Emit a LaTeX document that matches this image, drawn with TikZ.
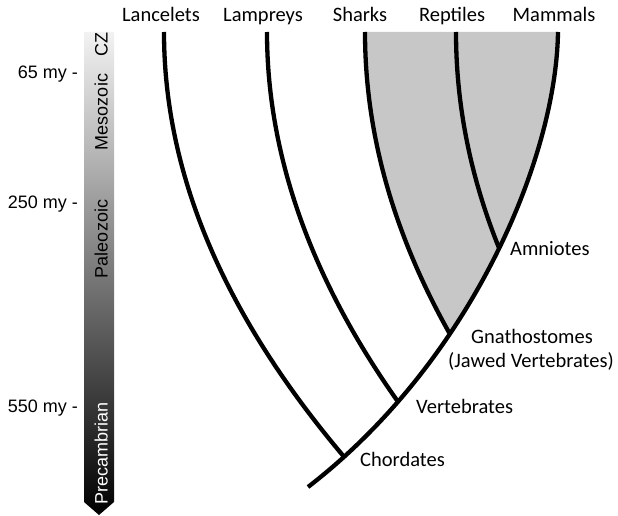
\documentclass[tikz,border=0pt]{standalone}
\usepackage{fontspec}
\setmainfont{Carlito}
\newfontfamily\arialf{Liberation Sans}
\begin{document}
\begin{tikzpicture}[x=1pt,y=-1pt,
  branch/.style={line width=4.3pt, black},
  cladefill/.style={fill=black!22},
  taxon/.style={font=\fontsize{20.5}{24}\selectfont, inner sep=0pt, anchor=base},
  clade/.style={font=\fontsize{20.5}{24}\selectfont, inner sep=0pt, anchor=base west},
  cladec/.style={font=\fontsize{20.5}{24}\selectfont, inner sep=0pt, anchor=base},
  age/.style={font=\arialf\fontsize{18}{22}\selectfont, inner sep=0pt, anchor=base east},
  era/.style={font=\arialf\fontsize{18}{22}\selectfont, inner sep=0pt, rotate=90, anchor=base}]
\useasboundingbox (0,0) rectangle (618,516);

% time bar
\shade[top color=black!5, middle color=black!45, bottom color=black]
  (84,32) -- (114,32) -- (114,502) -- (99,515) -- (84,502) -- cycle;
\node[era] (cz) at (107.5,45) {CZ};
\node[era] (meso) at (107.5,112) {Mesozoic};
\node[era] (paleo) at (107.5,239) {Paleozoic};
\node[era, text=white] (prec) at (107.5,453) {Precambrian};

\node[age] (a65) at (78,79) {65 my -};
\node[age] (a250) at (78,208) {250 my -};
\node[age] (a550) at (78,412) {550 my -};

% taxa
\node[taxon] (lanT) at (161,22) {Lancelets};
\node[taxon] (lamT) at (263,22) {Lampreys};
\node[taxon] (shaT) at (360,22) {Sharks};
\node[taxon] (repT) at (452,22) {Reptiles};
\node[taxon] (mamT) at (554,22) {Mammals};

% tree points
\coordinate (root) at (308,487);
\coordinate (tLan) at (164,32);
\coordinate (tLam) at (267,32);
\coordinate (tSha) at (365,32);
\coordinate (tRep) at (456,32);
\coordinate (tMam) at (558,32);
\coordinate (rc) at (618,0);
\path (root) .. controls (470,362) and (556,160) .. (tMam)
  coordinate[pos=0.077] (chor)
  coordinate[pos=0.205] (vert)
  coordinate[pos=0.35] (gnath)
  coordinate[pos=0.525] (amn);

% shaded clade
\begin{scope}
  \clip (root) .. controls (470,362) and (556,160) .. (tMam) -- (0,32) -- (0,487) -- cycle;
  \fill[cladefill] (gnath) .. controls ([shift={(-56.7,-100.7)}]gnath) and (365,133) .. (tSha)
    -- (tMam) -- (rc |- tMam) -- (rc |- gnath) -- cycle;
\end{scope}

% branches
\draw[branch] (root) .. controls (470,362) and (556,160) .. (tMam);
\draw[branch] (chor) .. controls (224,315) and (164,174) .. (tLan);
\draw[branch] (vert) .. controls (311,279) and (267,155) .. (tLam);
\draw[branch] (gnath) .. controls ([shift={(-56.7,-100.7)}]gnath) and (365,133) .. (tSha);
\draw[branch] (amn) .. controls (470,176) and (456,104) .. (tRep);

% clade labels
\node[clade] (amnL) at (510,255) {Amniotes};
\node[cladec] (gnL1) at (532,343) {Gnathostomes};
\node[cladec] (gnL2) at (531,367) {(Jawed Vertebrates)};
\node[clade] (vertL) at (416,413) {Vertebrates};
\node[clade] (chorL) at (360,466) {Chordates};
\end{tikzpicture}
\end{document}
